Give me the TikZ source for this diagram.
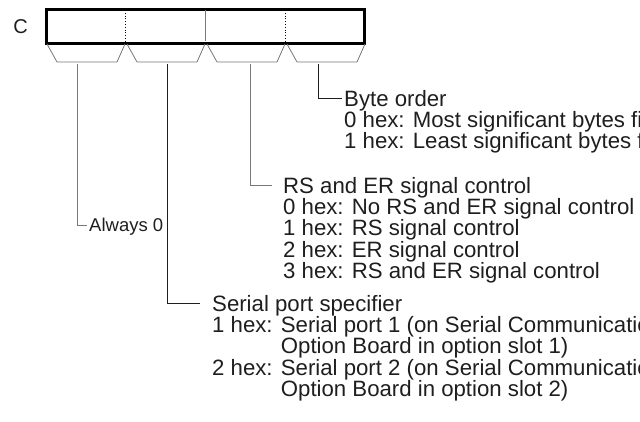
\documentclass[tikz,border=0pt]{standalone}
\usepackage{fontspec}
\setmainfont{Liberation Sans}
\usetikzlibrary{positioning}
\definecolor{rule}{HTML}{777777}
\definecolor{ink}{HTML}{1E1E1E}

\begin{document}
\begin{tikzpicture}[
  x=1pt, y=-1pt,
  txt/.style={
    align=left,
    inner sep=0pt,
    text=ink,
    font=\fontsize{22.2pt}{21.3pt}\selectfont
  },
  smalltxt/.style={
    txt,
    font=\fontsize{18.5pt}{18pt}\selectfont
  },
  word/.style={
    draw=black,
    line width=2.7pt,
    minimum width=318pt,
    minimum height=34pt,
    inner sep=0pt
  },
  bracket/.style={draw=rule, line width=0.8pt, line join=round},
  lead/.style={draw=rule, line width=0.9pt},
  darklead/.style={draw=ink, line width=0.9pt},
  nibble/.style={black, line width=0.8pt, dotted}
]
  \useasboundingbox (0,0) rectangle (640,422);
  \clip (0,0) rectangle (640,422);

  % the word and its four digits
  \node[word, anchor=north west] (reg) at (45,8.5) {};
  \node[txt, font=\fontsize{20pt}{20pt}\selectfont, left=17pt of reg.west, anchor=east]
    (cmd) {C};

  \draw[nibble] (125,10) -- (125,41);
  \draw[rule, line width=0.8pt] (205,10) -- (205,41);
  \draw[nibble] (285,10) -- (285,41);

  \foreach \x in {45,125,205,285}
    \draw[bracket] (\x+2,44) -- (\x+12,62) -- (\x+72,62) -- (\x+80,44);

  % leader start and end points
  \coordinate (b1) at (77,64.5);
  \coordinate (b2) at (167,64.5);
  \coordinate (b3) at (250,64.5);
  \coordinate (b4) at (318,64.5);

  \coordinate (e1) at (87,225);
  \coordinate (e2) at (200,303);
  \coordinate (e3) at (272,185);
  \coordinate (e4) at (342,98);

  \draw[lead] (b1) |- (e1);
  \draw[darklead] (b2) |- (e2);
  \draw[lead] (b3) |- (e3);
  \draw[darklead] (b4) |- (e4);

  % descriptions
  \node[smalltxt, right=2pt of e1, anchor=north west, yshift=7pt]
    (always) {Always 0};

  \node[txt, right=12pt of e2, anchor=north west, yshift=8pt]
    (port) {Serial port specifier\\
      1 hex: Serial port 1 (on Serial Communications\\
      \phantom{1 hex: }Option Board in option slot 1)\\
      2 hex: Serial port 2 (on Serial Communications\\
      \phantom{2 hex: }Option Board in option slot 2)};

  \node[txt, right=11pt of e3, anchor=north west, yshift=8pt]
    (rser) {RS and ER signal control\\
      0 hex: No RS and ER signal control\\
      1 hex: RS signal control\\
      2 hex: ER signal control\\
      3 hex: RS and ER signal control};

  \node[txt, right=2pt of e4, anchor=north west, yshift=8pt]
    (order) {Byte order\\
      0 hex: Most significant bytes first\\
      1 hex: Least significant bytes first};

\end{tikzpicture}
\end{document}
